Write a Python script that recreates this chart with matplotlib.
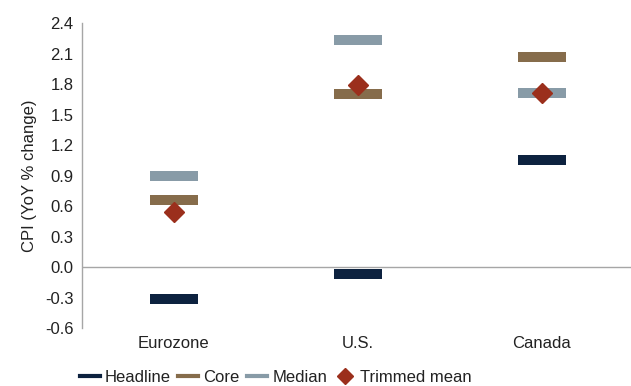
import matplotlib.pyplot as plt
from matplotlib.lines import Line2D

plt.rcParams['font.family'] = ['Liberation Sans', 'DejaVu Sans']

# donnees
regions = ['Eurozone', 'U.S.', 'Canada']
headline = [-0.31, -0.07, 1.05]
core = [0.66, 1.70, 2.07]
median = [0.90, 2.23, 1.71]
trimmed_mean = [0.54, 1.79, 1.71]

yticks = [-0.6, -0.3, 0.0, 0.3, 0.6, 0.9, 1.2, 1.5, 1.8, 2.1, 2.4]

c_head = '#0d223f'
c_core = '#866c4b'
c_med = '#889ba7'
c_trim = '#9b2f1c'

fig = plt.figure(figsize=(6.31, 3.86), dpi=100)
ax = fig.add_axes([0.1295, 0.150, 0.875, 0.790])

x = list(range(len(regions)))

# barres horizontales = marqueur '_' epais
for vals, col in [(headline, c_head), (core, c_core), (median, c_med)]:
    ax.plot(x, vals, linestyle='none', marker='_', markersize=34,
            markeredgewidth=7.2, color=col, zorder=3)
ax.plot(x, trimmed_mean, linestyle='none', marker='D', markersize=10,
        color=c_trim, zorder=4)

ax.axhline(0, color='#a6a6a6', linewidth=1.0, zorder=1)

ax.set_xlim(-0.5, 2.5)
ax.set_ylim(-0.6, 2.4)
ax.set_yticks(yticks)
ax.set_yticklabels([f'{v:.1f}' for v in yticks])
ax.set_xticks(x)
ax.set_xticklabels(regions)
ax.tick_params(axis='both', length=0, labelsize=12, colors='#222222')
ax.tick_params(axis='x', pad=6)
ax.tick_params(axis='y', pad=6)

for s in ['top', 'right', 'bottom']:
    ax.spines[s].set_visible(False)
ax.spines['left'].set_color('#a6a6a6')
ax.spines['left'].set_linewidth(1.0)

ax.set_ylabel('CPI (YoY % change)', fontsize=12, color='#222222', labelpad=6)

handles = [
    Line2D([], [], color=c_head, linewidth=3),
    Line2D([], [], color=c_core, linewidth=3),
    Line2D([], [], color=c_med, linewidth=3),
    Line2D([], [], color=c_trim, linestyle='none', marker='D', markersize=8),
]
labels = ['Headline', 'Core', 'Median', 'Trimmed mean']
fig.legend(handles, labels, loc='lower left', bbox_to_anchor=(0.103, -0.035),
           ncol=4, frameon=False, fontsize=12, handlelength=1.2,
           handletextpad=0.3, columnspacing=0.45, labelcolor='#222222')

fig.savefig('out.png', dpi=100)
